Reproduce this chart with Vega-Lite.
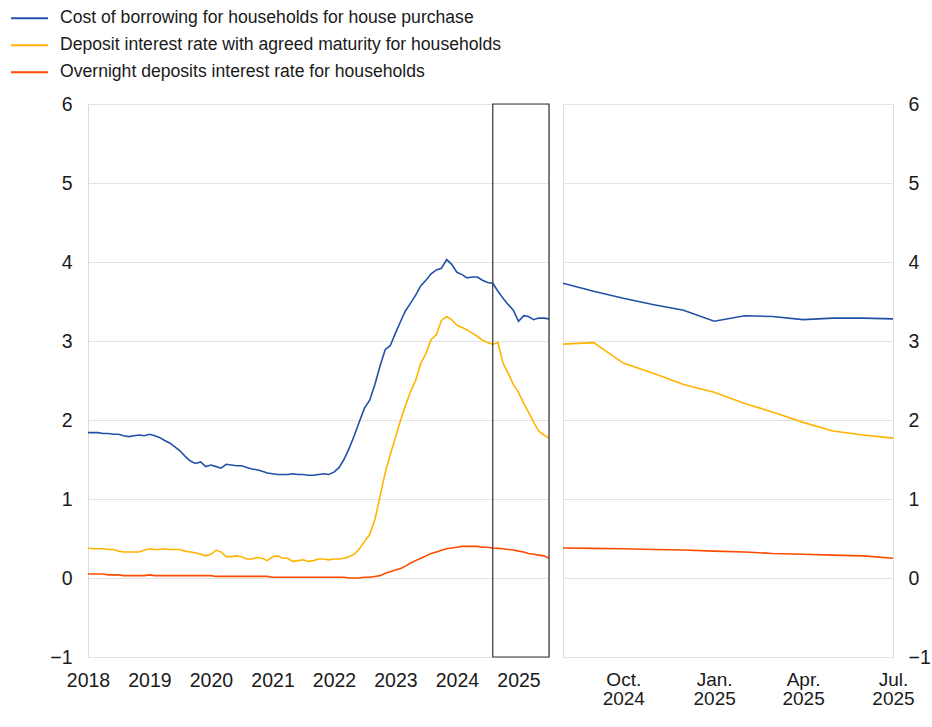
{
  "$schema": "https://vega.github.io/schema/vega-lite/v6.json",
  "background": "white",
  "padding": {"left": 10, "top": 5, "right": 5, "bottom": 5},
  "config": {
    "font": "Liberation Sans",
    "view": {"stroke": "#dcdcdc"},
    "axis": {"labelFont": "Liberation Sans", "labelFontSize": 19.5, "labelColor": "#1a1a1a", "domain": false, "ticks": false, "title": null, "gridColor": "#e3e3e3", "gridWidth": 1, "labelFlush": false, "labelOverlap": false, "labelBound": false},
    "legend": {"orient": "none", "legendX": -78, "legendY": -99, "direction": "vertical", "title": null, "labelFont": "Liberation Sans", "labelFontSize": 17.6, "labelColor": "#1a1a1a", "labelLimit": 0, "symbolType": "stroke", "symbolSize": 1369, "symbolStrokeWidth": 2, "labelOffset": 11, "clipHeight": 26.5, "rowPadding": 0, "padding": 0}
  },
  "datasets": {
    "rates": [
      {"date": "2018-01-01", "cost": 1.84, "deposit": 0.38, "overnight": 0.05},
      {"date": "2018-02-01", "cost": 1.84, "deposit": 0.37, "overnight": 0.05},
      {"date": "2018-03-01", "cost": 1.84, "deposit": 0.37, "overnight": 0.05},
      {"date": "2018-04-01", "cost": 1.83, "deposit": 0.37, "overnight": 0.05},
      {"date": "2018-05-01", "cost": 1.83, "deposit": 0.36, "overnight": 0.04},
      {"date": "2018-06-01", "cost": 1.82, "deposit": 0.36, "overnight": 0.04},
      {"date": "2018-07-01", "cost": 1.82, "deposit": 0.34, "overnight": 0.04},
      {"date": "2018-08-01", "cost": 1.80, "deposit": 0.33, "overnight": 0.03},
      {"date": "2018-09-01", "cost": 1.79, "deposit": 0.33, "overnight": 0.03},
      {"date": "2018-10-01", "cost": 1.80, "deposit": 0.33, "overnight": 0.03},
      {"date": "2018-11-01", "cost": 1.81, "deposit": 0.33, "overnight": 0.03},
      {"date": "2018-12-01", "cost": 1.80, "deposit": 0.35, "overnight": 0.03},
      {"date": "2019-01-01", "cost": 1.82, "deposit": 0.37, "overnight": 0.04},
      {"date": "2019-02-01", "cost": 1.80, "deposit": 0.36, "overnight": 0.03},
      {"date": "2019-03-01", "cost": 1.78, "deposit": 0.36, "overnight": 0.03},
      {"date": "2019-04-01", "cost": 1.74, "deposit": 0.37, "overnight": 0.03},
      {"date": "2019-05-01", "cost": 1.71, "deposit": 0.36, "overnight": 0.03},
      {"date": "2019-06-01", "cost": 1.66, "deposit": 0.36, "overnight": 0.03},
      {"date": "2019-07-01", "cost": 1.61, "deposit": 0.36, "overnight": 0.03},
      {"date": "2019-08-01", "cost": 1.54, "deposit": 0.34, "overnight": 0.03},
      {"date": "2019-09-01", "cost": 1.48, "deposit": 0.33, "overnight": 0.03},
      {"date": "2019-10-01", "cost": 1.45, "deposit": 0.32, "overnight": 0.03},
      {"date": "2019-11-01", "cost": 1.47, "deposit": 0.30, "overnight": 0.03},
      {"date": "2019-12-01", "cost": 1.41, "deposit": 0.28, "overnight": 0.03},
      {"date": "2020-01-01", "cost": 1.43, "deposit": 0.30, "overnight": 0.03},
      {"date": "2020-02-01", "cost": 1.41, "deposit": 0.35, "overnight": 0.02},
      {"date": "2020-03-01", "cost": 1.39, "deposit": 0.33, "overnight": 0.02},
      {"date": "2020-04-01", "cost": 1.44, "deposit": 0.27, "overnight": 0.02},
      {"date": "2020-05-01", "cost": 1.43, "deposit": 0.27, "overnight": 0.02},
      {"date": "2020-06-01", "cost": 1.42, "deposit": 0.28, "overnight": 0.02},
      {"date": "2020-07-01", "cost": 1.42, "deposit": 0.27, "overnight": 0.02},
      {"date": "2020-08-01", "cost": 1.40, "deposit": 0.24, "overnight": 0.02},
      {"date": "2020-09-01", "cost": 1.38, "deposit": 0.24, "overnight": 0.02},
      {"date": "2020-10-01", "cost": 1.37, "deposit": 0.26, "overnight": 0.02},
      {"date": "2020-11-01", "cost": 1.35, "deposit": 0.25, "overnight": 0.02},
      {"date": "2020-12-01", "cost": 1.33, "deposit": 0.22, "overnight": 0.02},
      {"date": "2021-01-01", "cost": 1.32, "deposit": 0.27, "overnight": 0.01},
      {"date": "2021-02-01", "cost": 1.31, "deposit": 0.28, "overnight": 0.01},
      {"date": "2021-03-01", "cost": 1.31, "deposit": 0.25, "overnight": 0.01},
      {"date": "2021-04-01", "cost": 1.31, "deposit": 0.25, "overnight": 0.01},
      {"date": "2021-05-01", "cost": 1.32, "deposit": 0.21, "overnight": 0.01},
      {"date": "2021-06-01", "cost": 1.31, "deposit": 0.22, "overnight": 0.01},
      {"date": "2021-07-01", "cost": 1.31, "deposit": 0.23, "overnight": 0.01},
      {"date": "2021-08-01", "cost": 1.30, "deposit": 0.21, "overnight": 0.01},
      {"date": "2021-09-01", "cost": 1.30, "deposit": 0.22, "overnight": 0.01},
      {"date": "2021-10-01", "cost": 1.31, "deposit": 0.24, "overnight": 0.01},
      {"date": "2021-11-01", "cost": 1.32, "deposit": 0.24, "overnight": 0.01},
      {"date": "2021-12-01", "cost": 1.31, "deposit": 0.23, "overnight": 0.01},
      {"date": "2022-01-01", "cost": 1.34, "deposit": 0.24, "overnight": 0.01},
      {"date": "2022-02-01", "cost": 1.40, "deposit": 0.24, "overnight": 0.01},
      {"date": "2022-03-01", "cost": 1.50, "deposit": 0.25, "overnight": 0.01},
      {"date": "2022-04-01", "cost": 1.64, "deposit": 0.27, "overnight": 0.00},
      {"date": "2022-05-01", "cost": 1.80, "deposit": 0.30, "overnight": 0.00},
      {"date": "2022-06-01", "cost": 1.98, "deposit": 0.37, "overnight": 0.00},
      {"date": "2022-07-01", "cost": 2.15, "deposit": 0.46, "overnight": 0.01},
      {"date": "2022-08-01", "cost": 2.25, "deposit": 0.55, "overnight": 0.01},
      {"date": "2022-09-01", "cost": 2.45, "deposit": 0.74, "overnight": 0.02},
      {"date": "2022-10-01", "cost": 2.68, "deposit": 1.03, "overnight": 0.03},
      {"date": "2022-11-01", "cost": 2.89, "deposit": 1.33, "overnight": 0.06},
      {"date": "2022-12-01", "cost": 2.94, "deposit": 1.56, "overnight": 0.08},
      {"date": "2023-01-01", "cost": 3.10, "deposit": 1.78, "overnight": 0.10},
      {"date": "2023-02-01", "cost": 3.25, "deposit": 2.00, "overnight": 0.12},
      {"date": "2023-03-01", "cost": 3.38, "deposit": 2.18, "overnight": 0.15},
      {"date": "2023-04-01", "cost": 3.48, "deposit": 2.36, "overnight": 0.19},
      {"date": "2023-05-01", "cost": 3.58, "deposit": 2.50, "overnight": 0.22},
      {"date": "2023-06-01", "cost": 3.70, "deposit": 2.72, "overnight": 0.25},
      {"date": "2023-07-01", "cost": 3.77, "deposit": 2.84, "overnight": 0.28},
      {"date": "2023-08-01", "cost": 3.85, "deposit": 3.02, "overnight": 0.31},
      {"date": "2023-09-01", "cost": 3.90, "deposit": 3.08, "overnight": 0.33},
      {"date": "2023-10-01", "cost": 3.92, "deposit": 3.26, "overnight": 0.35},
      {"date": "2023-11-01", "cost": 4.03, "deposit": 3.31, "overnight": 0.37},
      {"date": "2023-12-01", "cost": 3.97, "deposit": 3.27, "overnight": 0.38},
      {"date": "2024-01-01", "cost": 3.87, "deposit": 3.20, "overnight": 0.39},
      {"date": "2024-02-01", "cost": 3.84, "deposit": 3.17, "overnight": 0.40},
      {"date": "2024-03-01", "cost": 3.80, "deposit": 3.14, "overnight": 0.40},
      {"date": "2024-04-01", "cost": 3.81, "deposit": 3.10, "overnight": 0.40},
      {"date": "2024-05-01", "cost": 3.81, "deposit": 3.06, "overnight": 0.40},
      {"date": "2024-06-01", "cost": 3.77, "deposit": 3.01, "overnight": 0.39},
      {"date": "2024-07-01", "cost": 3.74, "deposit": 2.98, "overnight": 0.39},
      {"date": "2024-08-01", "cost": 3.73, "deposit": 2.96, "overnight": 0.38},
      {"date": "2024-09-01", "cost": 3.63, "deposit": 2.98, "overnight": 0.375},
      {"date": "2024-10-01", "cost": 3.54, "deposit": 2.72, "overnight": 0.37},
      {"date": "2024-11-01", "cost": 3.46, "deposit": 2.59, "overnight": 0.36},
      {"date": "2024-12-01", "cost": 3.39, "deposit": 2.45, "overnight": 0.355},
      {"date": "2025-01-01", "cost": 3.25, "deposit": 2.35, "overnight": 0.34},
      {"date": "2025-02-01", "cost": 3.32, "deposit": 2.21, "overnight": 0.33},
      {"date": "2025-03-01", "cost": 3.31, "deposit": 2.10, "overnight": 0.31},
      {"date": "2025-04-01", "cost": 3.27, "deposit": 1.97, "overnight": 0.30},
      {"date": "2025-05-01", "cost": 3.29, "deposit": 1.86, "overnight": 0.29},
      {"date": "2025-06-01", "cost": 3.29, "deposit": 1.81, "overnight": 0.28},
      {"date": "2025-07-01", "cost": 3.28, "deposit": 1.77, "overnight": 0.25}
    ],
    "window": [
      {"start": "2024-08-01", "end": "2025-07-01"}
    ]
  },
  "spacing": 6,
  "hconcat": [
    {
      "width": 461,
      "height": 553,
      "layer": [
        {
          "data": {"name": "rates"},
          "transform": [{"fold": ["cost", "deposit", "overnight"], "as": ["series", "value"]}],
          "mark": {"type": "line", "strokeWidth": 1.6},
          "encoding": {
            "x": {"field": "date", "type": "temporal", "scale": {"type": "utc", "nice": false},
                  "axis": {"grid": false, "labelPadding": 14, "labelExpr": "utcFormat(datum.value, '%Y')",
                           "values": [{"year": 2018, "month": 1, "date": 1, "utc": true}, {"year": 2019, "month": 1, "date": 1, "utc": true}, {"year": 2020, "month": 1, "date": 1, "utc": true}, {"year": 2021, "month": 1, "date": 1, "utc": true}, {"year": 2022, "month": 1, "date": 1, "utc": true}, {"year": 2023, "month": 1, "date": 1, "utc": true}, {"year": 2024, "month": 1, "date": 1, "utc": true}, {"year": 2025, "month": 1, "date": 1, "utc": true}]}},
            "y": {"field": "value", "type": "quantitative", "scale": {"domain": [-1, 6], "nice": false, "zero": false},
                  "axis": {"grid": true, "values": [-1, 0, 1, 2, 3, 4, 5, 6], "format": "d", "labelPadding": 16}},
            "color": {"field": "series", "type": "nominal",
                      "scale": {"domain": ["cost", "deposit", "overnight"], "range": ["#2151a6", "#ffb400", "#ff4b00"]},
                      "legend": {"labelExpr": "datum.label == 'cost' ? 'Cost of borrowing for households for house purchase' : datum.label == 'deposit' ? 'Deposit interest rate with agreed maturity for households' : 'Overnight deposits interest rate for households'"}}
          }
        },
        {
          "mark": {"type": "rule", "color": "#9a9a9a", "strokeWidth": 1},
          "encoding": {"y": {"datum": 0, "type": "quantitative"}}
        },
        {
          "data": {"name": "window"},
          "mark": {"type": "rect", "fill": null, "fillOpacity": 0, "stroke": "#333333", "strokeWidth": 1.2},
          "encoding": {
            "x": {"field": "start", "type": "temporal"},
            "x2": {"field": "end"},
            "y": {"datum": 6, "type": "quantitative"},
            "y2": {"datum": -1}
          }
        }
      ]
    },
    {
      "width": 330,
      "height": 553,
      "layer": [
        {
          "data": {"name": "rates"},
          "transform": [
            {"filter": "time(datum.date) >= utc(2024, 7, 1)"},
            {"fold": ["cost", "deposit", "overnight"], "as": ["series", "value"]}
          ],
          "mark": {"type": "line", "strokeWidth": 1.6},
          "encoding": {
            "x": {"field": "date", "type": "temporal", "scale": {"type": "utc", "nice": false},
                  "axis": {"grid": false, "labelPadding": 13, "labelFontSize": 19, "labelLineHeight": 19.5,
                           "labelExpr": "[utcFormat(datum.value, '%b') + '.', utcFormat(datum.value, '%Y')]",
                           "values": [{"year": 2024, "month": 10, "date": 1, "utc": true}, {"year": 2025, "month": 1, "date": 1, "utc": true}, {"year": 2025, "month": 4, "date": 1, "utc": true}, {"year": 2025, "month": 7, "date": 1, "utc": true}]}},
            "y": {"field": "value", "type": "quantitative", "scale": {"domain": [-1, 6], "nice": false, "zero": false},
                  "axis": {"orient": "right", "grid": true, "values": [-1, 0, 1, 2, 3, 4, 5, 6], "format": "d", "labelPadding": 15}},
            "color": {"field": "series", "type": "nominal", "legend": null}
          }
        },
        {
          "mark": {"type": "rule", "color": "#9a9a9a", "strokeWidth": 1},
          "encoding": {"y": {"datum": 0, "type": "quantitative"}}
        }
      ]
    }
  ]
}
